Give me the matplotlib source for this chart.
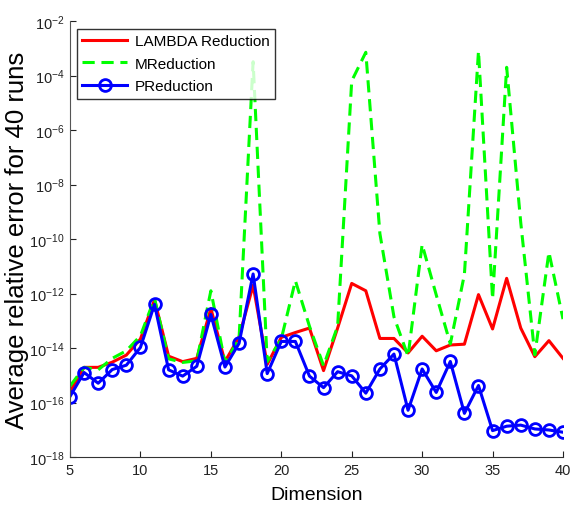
import matplotlib
matplotlib.use("Agg")
import matplotlib.pyplot as plt
from matplotlib.ticker import LogLocator, NullLocator

plt.rcParams['font.family'] = ['Liberation Sans', 'DejaVu Sans']
plt.rcParams['mathtext.fontset'] = 'custom'
plt.rcParams['mathtext.rm'] = 'Liberation Sans'
plt.rcParams['mathtext.it'] = 'Liberation Sans:italic'

dimension = list(range(5, 41))

lambda_red = [2.51e-16, 1.95e-15, 1.95e-15, 3.02e-15, 5.5e-15, 2.14e-14, 5.9e-13,
              5.0e-15, 3.16e-15, 4.17e-15, 2.82e-13, 3.16e-15, 2.51e-14, 2.0e-12,
              2.51e-15, 2.45e-14, 3.7e-14, 5.4e-14, 1.48e-15, 5.4e-14, 2.34e-12,
              1.26e-12, 2.24e-14, 2.24e-14, 6.6e-15, 2.7e-14, 7.9e-15, 1.29e-14,
              1.38e-14, 9.1e-13, 5.0e-14, 3.6e-12, 5.4e-14, 4.8e-15, 1.86e-14, 4.17e-15]

m_green = [4.0e-16, 1.95e-15, 1.58e-15, 4.17e-15, 7.9e-15, 2.8e-14, 6.6e-13,
           4.0e-15, 2.95e-15, 3.4e-15, 1.26e-12, 2.95e-15, 2.14e-14, 3.2e-4,
           3.16e-15, 2.14e-14, 2.95e-12, 6.3e-14, 2.24e-15, 6.3e-14, 6.3e-5,
           7.1e-4, 1.58e-10, 1.38e-13, 5.0e-15, 6.3e-11, 8.9e-13, 1.41e-14,
           5.0e-12, 7.9e-4, 6.3e-13, 2.0e-4, 4.0e-10, 5.6e-15, 3.3e-11, 1.15e-13]

p_blue = [1.66e-16, 1.26e-15, 5.1e-16, 1.62e-15, 2.34e-15, 1.05e-14, 4.0e-13,
          1.58e-15, 9.3e-16, 2.14e-15, 1.7e-13, 2.0e-15, 1.48e-14, 5.2e-12,
          1.15e-15, 1.74e-14, 1.74e-14, 9.3e-16, 3.5e-16, 1.35e-15, 9.5e-16,
          2.2e-16, 1.7e-15, 6.0e-15, 5.2e-17, 1.7e-15, 2.34e-16, 3.2e-15,
          4.0e-17, 4.2e-16, 9.3e-18, 1.35e-17, 1.48e-17, 1.07e-17, 9.8e-18, 8.1e-18]

series_names = ["LAMBDA Reduction", "MReduction", "PReduction"]
x_ticks = [5, 10, 15, 20, 25, 30, 35, 40]

fig = plt.figure(figsize=(5.74, 5.10), dpi=100)
ax = fig.add_axes([70/574, 1-458/510, (563-70)/574, (458-22)/510])

ax.plot(dimension, lambda_red, color=(1, 0, 0), lw=2.2, label=series_names[0])
ln, = ax.plot(dimension, m_green, color=(0, 1, 0), lw=2.2, label=series_names[1])
ln.set_dashes([4, 2.2])
ax.plot(dimension, p_blue, color=(0, 0, 1), lw=2.2, marker='o', ms=8.5,
        mfc='none', mew=2.0, label=series_names[2])

ax.set_yscale('log')
ax.set_xlim(5, 40)
ax.set_ylim(1e-18, 1e-2)
ax.set_xticks(x_ticks)
ax.yaxis.set_major_locator(LogLocator(base=100.0))
ax.yaxis.set_minor_locator(NullLocator())

for s in ['top', 'right']:
    ax.spines[s].set_visible(False)
ax.spines['left'].set_color('#555555')
ax.spines['bottom'].set_color('#333333')
ax.tick_params(direction='in', length=4, width=0.8, labelsize=10.5, colors='#222222')
ax.tick_params(axis='x', pad=4)
ax.tick_params(axis='y', pad=4)

ax.set_xlabel("Dimension", fontsize=14, labelpad=7)
ax.set_ylabel("Average relative error for 40 runs", fontsize=18.5)
ax.yaxis.set_label_coords(-41/493, 0.5)

leg = ax.legend(loc='upper left', bbox_to_anchor=(7/493, 1-8/436), fontsize=11,
                frameon=True, fancybox=False, edgecolor='black', handlelength=2.95,
                borderpad=0.35, labelspacing=0.55, handletextpad=0.5,
                borderaxespad=0)
leg.get_frame().set_linewidth(1.0)

fig.savefig("out.png", dpi=100)
